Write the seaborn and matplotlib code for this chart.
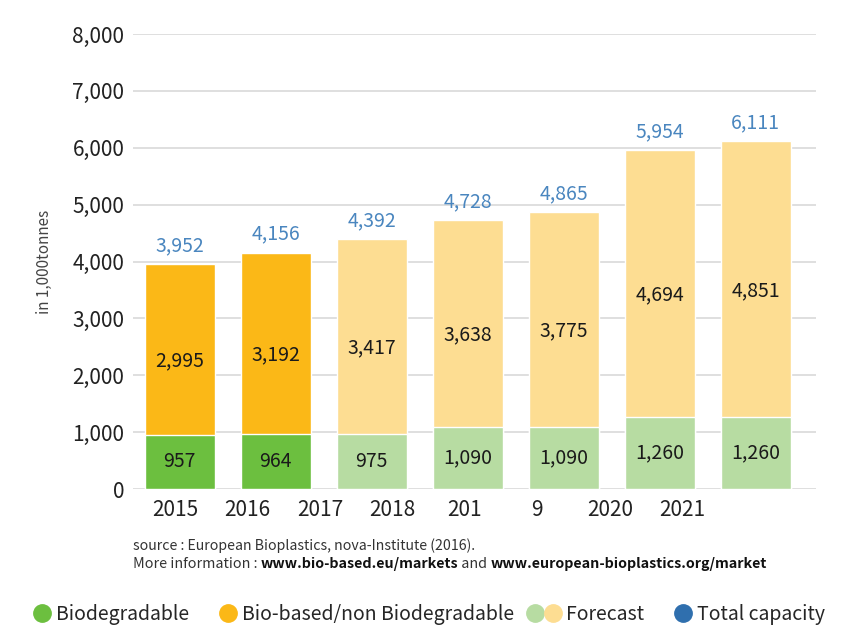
import numpy as np
import pandas as pd
import matplotlib
matplotlib.use('Agg')
import matplotlib.pyplot as plt
from matplotlib.lines import Line2D
from matplotlib.legend_handler import HandlerBase
import seaborn as sns

# Data (in 1,000 tonnes)
years = ['2015', '2016', '2017', '2018', '2019', '2020', '2021']
biodegradable = [957, 964, 975, 1090, 1090, 1260, 1260]
bio_based = [2995, 3192, 3417, 3638, 3775, 4694, 4851]
total_capacity = [3952, 4156, 4392, 4728, 4865, 5954, 6111]
is_forecast = [False, False, True, True, True, True, True]

# tick labels exactly as printed (the 2019 label is split in the source)
tick_labels = ['2015', '2016', '2017', '2018', '201', '9', '2020', '2021']

# colours
GREEN = '#6cbf3f'
ORANGE = '#fbb817'
LIGHT_GREEN = '#b7dca2'
LIGHT_YELLOW = '#fddd92'
BLUE_TXT = '#4a86bf'
BLUE_DOT = '#2f6fae'

df = pd.DataFrame({
    'year': years,
    'biodegradable': biodegradable,
    'bio_based': bio_based,
    'total': total_capacity,
    'forecast': is_forecast,
})

sns.set_theme(style='white')
plt.rcParams['font.family'] = ['Noto Sans CJK KR', 'DejaVu Sans']

fig = plt.figure(figsize=(8.56, 6.43), dpi=100)
ax = fig.add_axes([0.155, 0.2395, 0.798, 0.7075])

top_pal = {y: (LIGHT_YELLOW if f else ORANGE) for y, f in zip(years, is_forecast)}
bot_pal = {y: (LIGHT_GREEN if f else GREEN) for y, f in zip(years, is_forecast)}

# stacked bars: full height first, biodegradable part on top of it
sns.barplot(data=df, x='year', y='total', hue='year', palette=top_pal,
            legend=False, width=0.73, saturation=1, ax=ax, zorder=2)
sns.barplot(data=df, x='year', y='biodegradable', hue='year', palette=bot_pal,
            legend=False, width=0.73, saturation=1, ax=ax, zorder=2)

# value labels
for i, row in df.iterrows():
    ax.text(i, row['biodegradable'] / 2, f"{row['biodegradable']:,}",
            ha='center', va='center', fontsize=14, color='#1a1a1a', zorder=3)
    mid = row['biodegradable'] + row['bio_based'] / 2 - 200
    ax.text(i, mid, f"{row['bio_based']:,}",
            ha='center', va='center', fontsize=14, color='#1a1a1a', zorder=3)
    ax.annotate(f"{row['total']:,}", (i, row['total']), xytext=(0, 6),
                textcoords='offset points', ha='center', va='bottom',
                fontsize=14, color=BLUE_TXT)

# axes styling
ax.set_ylim(0, 8000)
ax.set_xlim(-0.49, 6.625)
ax.set_yticks(range(0, 8001, 1000))
ax.set_yticklabels([f"{v:,}" for v in range(0, 8001, 1000)], fontsize=15, color='#222222')
xpos = -0.05 + 0.755 * np.arange(len(tick_labels))
ax.set_xticks(xpos)
ax.set_xticklabels(tick_labels, fontsize=15, color='#222222')
ax.tick_params(axis='both', length=0, pad=6)
ax.tick_params(axis='x', pad=7)
ax.grid(axis='y', color='#d9d9d9', linewidth=1.2, zorder=0)
ax.set_axisbelow(True)
for s in ax.spines.values():
    s.set_visible(False)
ax.set_xlabel('')
ax.set_ylabel('in 1,000tonnes', fontsize=11, color='#444444', labelpad=14)

# source note
fig.text(0.155, 0.145, 'source : European Bioplastics, nova-Institute (2016).',
         fontsize=10.2, color='#333333', va='baseline')
parts = [('More information : ', 'normal'), ('www.bio-based.eu/markets', 'bold'),
         (' and ', 'normal'), ('www.european-bioplastics.org/market', 'bold')]
prev = fig.text(0.155, 0.117, parts[0][0], fontsize=10.3, color='#333333', va='baseline')
for txt, w in parts[1:]:
    prev = ax.annotate(txt, xy=(1, 0), xycoords=prev, va='bottom', ha='left',
                       fontsize=10.3,
                       color='#111111' if w == 'bold' else '#333333',
                       fontweight=w, annotation_clip=False)


# legend: the forecast entry shows two dots side by side
class HandlerTwoDots(HandlerBase):
    def create_artists(self, legend, orig_handle, xdescent, ydescent,
                       width, height, fontsize, trans):
        y = height / 2 - ydescent
        xc = width / 2 - xdescent
        arts = []
        for k, h in enumerate(orig_handle):
            ln = Line2D([xc - 12.5 + 12.5 * k], [y], marker='o', linestyle='',
                        markersize=h.get_markersize(),
                        markerfacecolor=h.get_markerfacecolor(),
                        markeredgecolor=h.get_markeredgecolor(), transform=trans)
            arts.append(ln)
        return arts


def dot(c):
    return Line2D([], [], marker='o', linestyle='', markersize=12.5,
                  markerfacecolor=c, markeredgecolor=c)

handles = [dot(GREEN), dot(ORANGE), (dot(LIGHT_GREEN), dot(LIGHT_YELLOW)), dot(BLUE_DOT)]
labels = ['Biodegradable', 'Bio-based/non Biodegradable', 'Forecast', 'Total capacity']
fig.legend(handles, labels, loc='center', bbox_to_anchor=(0.501, 0.045), ncol=4,
           frameon=False, fontsize=14, handletextpad=0.2, columnspacing=1.5,
           handlelength=1.0,
           handler_map={tuple: HandlerTwoDots()})

fig.savefig('out.png', dpi=100)
